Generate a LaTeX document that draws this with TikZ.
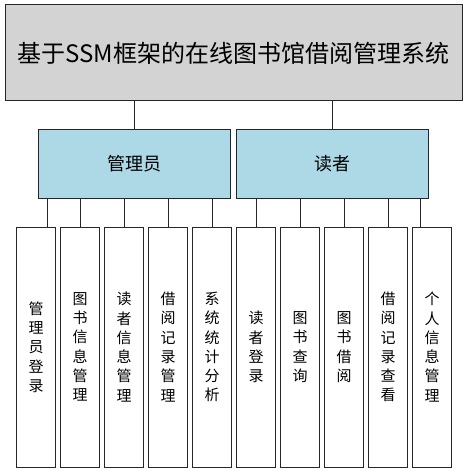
\documentclass[tikz,border=0pt]{standalone}
\usepackage{fontspec}
\setmainfont{Noto Sans CJK SC}
\definecolor{sysgray}{RGB}{211,211,211}
\definecolor{roleblue}{RGB}{173,216,230}

\begin{document}
\begin{tikzpicture}[x=1pt,y=-1pt]
\tikzstyle{every node}=[draw=black!85,line width=1pt,inner sep=0pt]
\tikzstyle{sysbox}=[fill=sysgray,minimum width=457pt,minimum height=96pt,font=\fontsize{24}{28}\selectfont]
\tikzstyle{rolebox}=[fill=roleblue,minimum width=192pt,minimum height=68pt,font=\fontsize{18}{22}\selectfont]
\tikzstyle{funcbox}=[fill=white,minimum width=38.7pt,minimum height=240pt,align=center,font=\fontsize{15}{19.3}\selectfont]
\useasboundingbox (0,0) rectangle (467,473);
\node[sysbox] (sys) at (233.5,53) {基于SSM框架的在线图书馆借阅管理系统};
\node[rolebox] (admin) at (134.7,164) {管理员};
\node[rolebox] (reader) at (332,164) {读者};
% functions
\foreach \t [count=\i] in {{管\\理\\员\\登\\录},{图\\书\\信\\息\\管\\理},{读\\者\\信\\息\\管\\理},
{借\\阅\\记\\录\\管\\理},{系\\统\\统\\计\\分\\析},{读\\者\\登\\录},{图\\书\\查\\询},
{图\\书\\借\\阅},{借\\阅\\记\\录\\查\\看},{个\\人\\信\\息\\管\\理}}
\node[funcbox] (f\i) at ({-8+44*\i},347) {\t};
\draw[line width=1pt,black!85] (admin.north) -- (admin.north |- sys.south);
\draw[line width=1pt,black!85] (reader.north) -- (reader.north |- sys.south);
\draw[line width=1pt,black!85] ([xshift=11pt]f1.north) -- ([xshift=11pt]f1.north |- admin.south);
\foreach \i in {2,...,5}
\draw[line width=1pt,black!85] (f\i.north) -- (f\i.north |- admin.south);
\foreach \i in {6,...,9}
\draw[line width=1pt,black!85] (f\i.north) -- (f\i.north |- reader.south);
\draw[line width=1pt,black!85] ([xshift=-11.3pt]f10.north) -- ([xshift=-11.3pt]f10.north |- reader.south);

\end{tikzpicture}
\end{document}
